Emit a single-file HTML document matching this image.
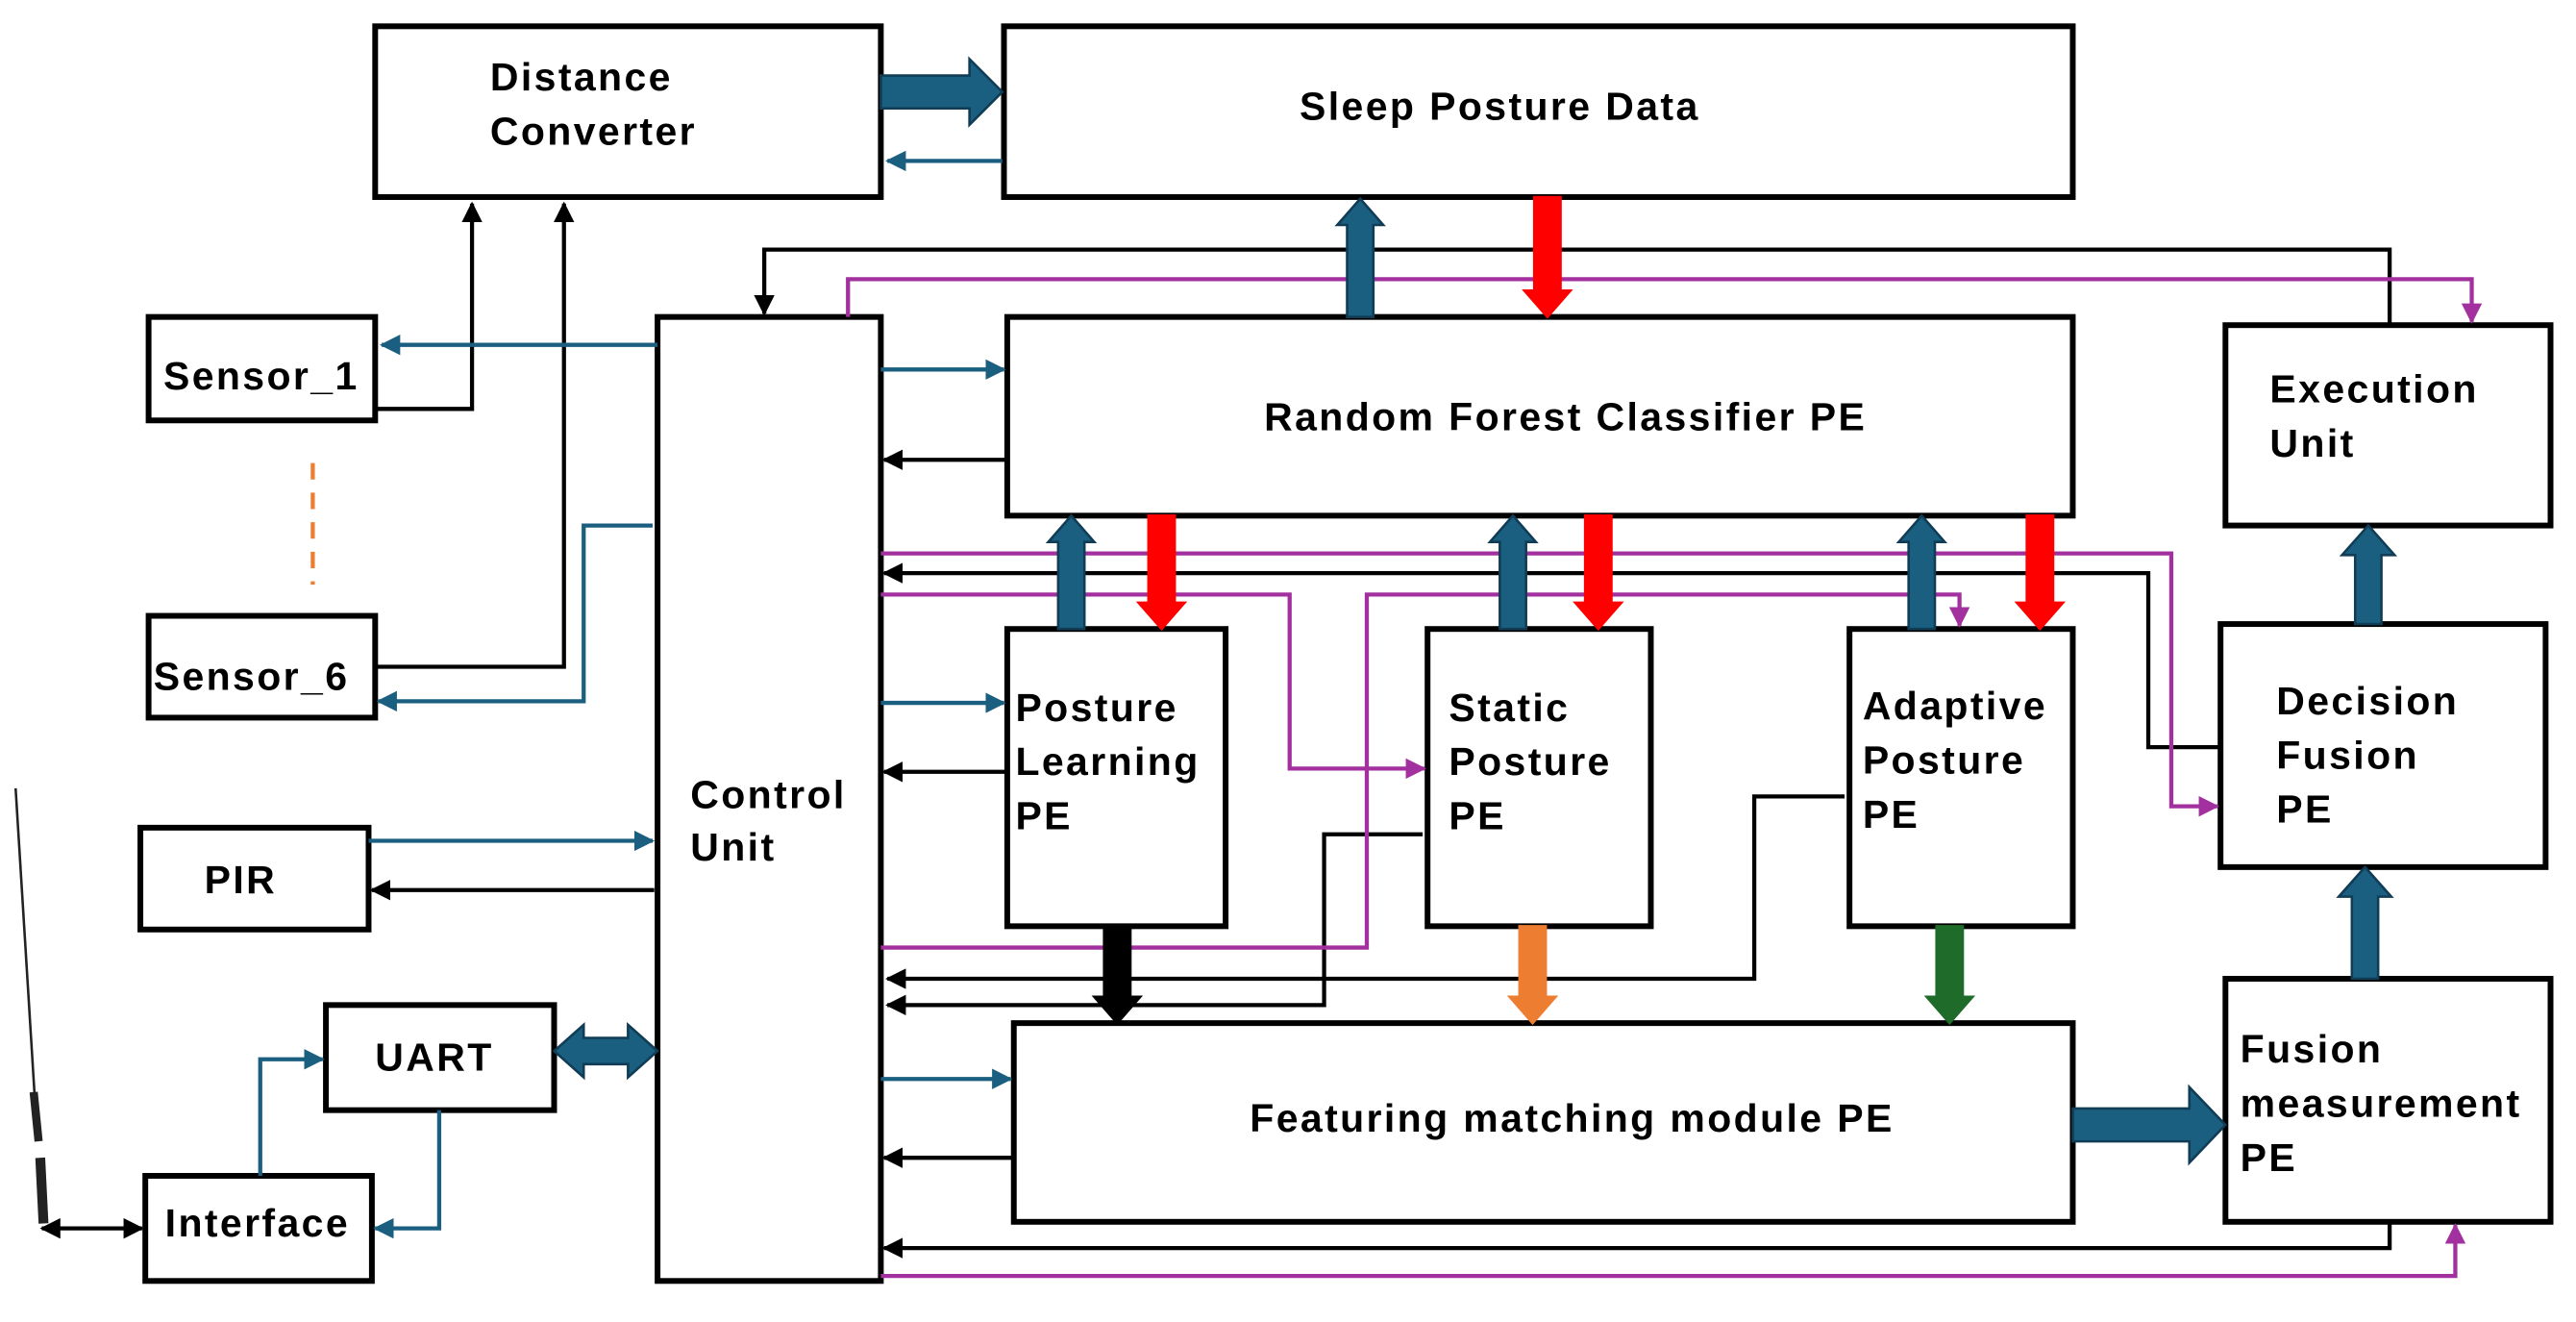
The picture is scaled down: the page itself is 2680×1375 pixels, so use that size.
<!DOCTYPE html>
<html><head><meta charset="utf-8"><style>
html,body{margin:0;padding:0;background:#fff;}
svg{display:block;}
text{font-family:"Liberation Sans",Arial,sans-serif;font-weight:bold;font-size:24px;letter-spacing:1.4px;fill:#000;}
</style></head><body>
<svg width="2680" height="1375" viewBox="0 0 1568 805" xmlns="http://www.w3.org/2000/svg">
<defs>
<marker id="mk" viewBox="0 0 10 10" refX="9" refY="5" markerWidth="5" markerHeight="5" orient="auto-start-reverse" markerUnits="strokeWidth"><path d="M0,0 L10,5 L0,10 z" fill="#000"/></marker>
<marker id="mt" viewBox="0 0 10 10" refX="9" refY="5" markerWidth="5" markerHeight="5" orient="auto" markerUnits="strokeWidth"><path d="M0,0 L10,5 L0,10 z" fill="#1a5e80"/></marker>
<marker id="mp" viewBox="0 0 10 10" refX="9" refY="5" markerWidth="5" markerHeight="5" orient="auto" markerUnits="strokeWidth"><path d="M0,0 L10,5 L0,10 z" fill="#a3309f"/></marker>
</defs>
<rect width="1568" height="805" fill="#fff"/>
<g fill="none" stroke="#000" stroke-width="3.5">
<rect x="228" y="16" width="308" height="104"/>
<rect x="611" y="16" width="651" height="104"/>
<rect x="90" y="193" width="138" height="63"/>
<rect x="90" y="375" width="138" height="62"/>
<rect x="85" y="504" width="139" height="62"/>
<rect x="198" y="612" width="139" height="64"/>
<rect x="88" y="716" width="138" height="64"/>
<rect x="400" y="193" width="136" height="587"/>
<rect x="613" y="193" width="649" height="121"/>
<rect x="1355" y="198" width="198" height="122"/>
<rect x="613" y="383" width="133" height="181"/>
<rect x="869" y="383" width="136" height="181"/>
<rect x="1126" y="383" width="136" height="181"/>
<rect x="1352" y="380" width="198" height="148"/>
<rect x="617" y="623" width="645" height="121"/>
<rect x="1355" y="596" width="198" height="148"/>
</g>
<g fill="none" stroke="#000" stroke-width="2.5">
<path d="M228,249 H287 V124" marker-end="url(#mk)"/>
<path d="M228,406 H343 V124" marker-end="url(#mk)"/>
<path d="M398,542 H226" marker-end="url(#mk)"/>
<path d="M1455,198 V152 H465 V191" marker-end="url(#mk)"/>
<path d="M613,280 H538" marker-end="url(#mk)"/>
<path d="M1352,455 H1308 V349 H538" marker-end="url(#mk)"/>
<path d="M613,470 H538" marker-end="url(#mk)"/>
<path d="M866,508 H806 V612 H540" marker-end="url(#mk)"/>
<path d="M1123,485 H1068 V596 H540" marker-end="url(#mk)"/>
<path d="M617,705 H538" marker-end="url(#mk)"/>
<path d="M1455,744 V760 H538" marker-end="url(#mk)"/>
<path d="M25,748 H86" marker-start="url(#mk)" marker-end="url(#mk)"/>
</g>
<path d="M9,480 L22,690" stroke="#222" stroke-width="1.5" fill="none"/>
<path d="M20,665 L23,695" stroke="#222" stroke-width="5"/>
<path d="M24,705 L26,745" stroke="#222" stroke-width="6"/>
<g fill="none" stroke="#1a5e80" stroke-width="2.5">
<path d="M610,98 H540" marker-end="url(#mt)"/>
<path d="M400,210 H232" marker-end="url(#mt)"/>
<path d="M397,320 H355 V427 H230" marker-end="url(#mt)"/>
<path d="M224,512 H397" marker-end="url(#mt)"/>
<path d="M158,716 V645 H196" marker-end="url(#mt)"/>
<path d="M267,676 V748 H228" marker-end="url(#mt)"/>
<path d="M536,225 H611" marker-end="url(#mt)"/>
<path d="M536,428 H611" marker-end="url(#mt)"/>
<path d="M536,657 H615" marker-end="url(#mt)"/>
</g>
<g fill="none" stroke="#a3309f" stroke-width="2.5">
<path d="M516,193 V170 H1505 V196" marker-end="url(#mp)"/>
<path d="M536,337 H1322 V491 H1350" marker-end="url(#mp)"/>
<path d="M536,362 H785 V468 H867" marker-end="url(#mp)"/>
<path d="M536,577 H832 V362 H1193 V381" marker-end="url(#mp)"/>
<path d="M536,777 H1495 V746" marker-end="url(#mp)"/>
</g>
<path d="M190,282 V356" stroke="#ed7d31" stroke-width="2.5" stroke-dasharray="10,8" fill="none"/>
<g stroke-width="1.5" stroke-linejoin="miter">
<g fill="#1a5e80" stroke="#103c55">
<polygon points="536,46 590,46 590,36 610,56 590,76 590,66 536,66"/>
<polygon points="820,193 820,137 814,137 828,121 842,137 836,137 836,193"/>
<polygon points="644,383 644,330 638,330 652,314 666,330 660,330 660,383"/>
<polygon points="913,383 913,330 907,330 921,314 935,330 929,330 929,383"/>
<polygon points="1162,383 1162,330 1156,330 1170,314 1184,330 1178,330 1178,383"/>
<polygon points="1432,596 1432,546 1424,546 1440,528 1456,546 1448,546 1448,596"/>
<polygon points="1434,380 1434,338 1426,338 1442,320 1458,338 1450,338 1450,380"/>
<polygon points="1262,675 1333,675 1333,662 1355,685 1333,708 1333,695 1262,695"/>
<polygon points="337,640 355,624 355,632 382,632 382,624 400,640 382,656 382,648 355,648 355,656"/>
</g>
<g fill="#ff0000" stroke="#ff0000">
<polygon points="934,120 934,177 928,177 942,193 956,177 950,177 950,120"/>
<polygon points="699,314 699,367 693,367 707,383 721,367 715,367 715,314"/>
<polygon points="965,314 965,367 959,367 973,383 987,367 981,367 981,314"/>
<polygon points="1234,314 1234,367 1228,367 1242,383 1256,367 1250,367 1250,314"/>
</g>
<polygon fill="#000" stroke="#000" points="672,564 672,607 666,607 680,623 694,607 688,607 688,564"/>
<polygon fill="#ed7d31" stroke="#ed7d31" points="925,564 925,607 919,607 933,623 947,607 941,607 941,564"/>
<polygon fill="#1e6b2a" stroke="#1e6b2a" points="1179,564 1179,607 1173,607 1187,623 1201,607 1195,607 1195,564"/>
</g>
<text x="298" y="55">Distance</text>
<text x="298" y="88">Converter</text>
<text x="913" y="73" text-anchor="middle">Sleep Posture Data</text>
<text x="99" y="237">Sensor_1</text>
<text x="93" y="420">Sensor_6</text>
<text x="124" y="544">PIR</text>
<text x="228" y="652">UART</text>
<text x="100" y="753">Interface</text>
<text x="420" y="492">Control</text>
<text x="420" y="524">Unit</text>
<text x="953" y="262" text-anchor="middle">Random Forest Classifier PE</text>
<text x="1382" y="245">Execution</text>
<text x="1382" y="278">Unit</text>
<text x="618" y="439">Posture</text>
<text x="618" y="472">Learning</text>
<text x="618" y="505">PE</text>
<text x="882" y="439">Static</text>
<text x="882" y="472">Posture</text>
<text x="882" y="505">PE</text>
<text x="1134" y="438">Adaptive</text>
<text x="1134" y="471">Posture</text>
<text x="1134" y="504">PE</text>
<text x="1386" y="435">Decision</text>
<text x="1386" y="468">Fusion</text>
<text x="1386" y="501">PE</text>
<text x="957" y="689" text-anchor="middle">Featuring matching module PE</text>
<text x="1364" y="647">Fusion</text>
<text x="1364" y="680">measurement</text>
<text x="1364" y="713">PE</text>
</svg>
</body></html>
